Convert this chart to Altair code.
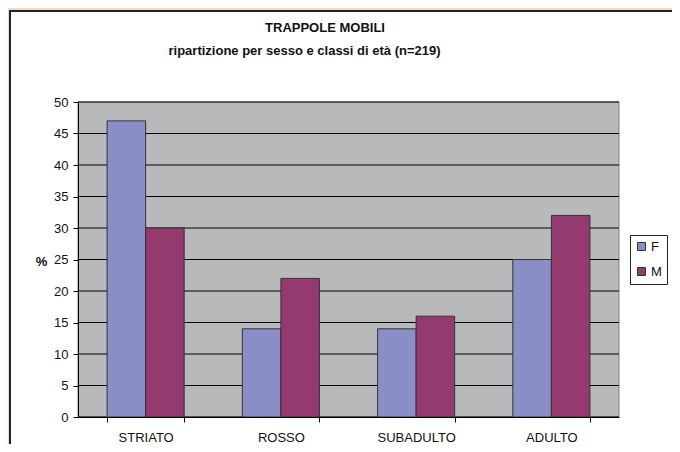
import altair as alt
import pandas as pd

# ---- data ----
categories = ["STRIATO", "ROSSO", "SUBADULTO", "ADULTO"]
sexes = ["F", "M"]
values_F = [47, 14, 14, 25]
values_M = [30, 22, 16, 32]
y_ticks = [0, 5, 10, 15, 20, 25, 30, 35, 40, 45, 50]
title_text = "TRAPPOLE MOBILI"
subtitle_text = "ripartizione per sesso e classi di età (n=219)"
colors = ["#8A8EC6", "#953A6E"]

rows = []
for c, f, m in zip(categories, values_F, values_M):
    rows.append({"classe": c, "sesso": "F", "pct": f})
    rows.append({"classe": c, "sesso": "M", "pct": m})
df = pd.DataFrame(rows)
grid_df = pd.DataFrame({"pct": y_ticks})
one = pd.DataFrame({"a": [0]})

FONT = "Liberation Sans"
W, H = 541, 315
PL, PT, PR, PB = 70, 94, 53, 27

y_scale = alt.Scale(domain=[0, 50], nice=False, zero=True)
y_axis = alt.Axis(
    values=y_ticks, title="%", titleAngle=0, titleX=-37, titleY=159,
    titleAlign="center", titleBaseline="middle", titleFontSize=13,
    titleFontWeight="bold", titleFont=FONT, titleColor="#111",
    grid=False, domainColor="#000", tickColor="#000", tickSize=5,
    labelPadding=5, labelFontSize=13, labelFont=FONT, labelColor="#111",
    zindex=1,
)

frame = alt.Chart(one).mark_rect(
    fill="white", stroke="#222", strokeWidth=2
).encode(
    x=alt.value(-PL + 2), x2=alt.value(W + PR + 10),
    y=alt.value(-PT + 3), y2=alt.value(H + PB + 10),
)

plotbg = alt.Chart(one).mark_rect(
    fill="#B8B9BB", stroke="#808080", strokeWidth=1
).encode(
    x=alt.value(0), x2=alt.value(W), y=alt.value(0), y2=alt.value(H)
)

grid = alt.Chart(grid_df).mark_rule(color="#000", strokeWidth=1).encode(
    y=alt.Y("pct:Q", scale=y_scale, axis=y_axis)
)

bars = alt.Chart(df).mark_bar(stroke="#333", strokeWidth=1).encode(
    x=alt.X(
        "classe:N", sort=categories,
        scale=alt.Scale(paddingInner=0.43, paddingOuter=0.215),
        axis=alt.Axis(
            title=None, labelAngle=0, tickBand="extent", grid=False,
            domainColor="#000", tickColor="#000", tickSize=5,
            labelPadding=9, labelFontSize=13, labelFont=FONT,
            labelColor="#111", zindex=1,
        ),
    ),
    xOffset=alt.XOffset("sesso:N", sort=sexes,
                        scale=alt.Scale(paddingInner=0, paddingOuter=0)),
    y=alt.Y("pct:Q", scale=y_scale, axis=y_axis),
    color=alt.Color(
        "sesso:N",
        scale=alt.Scale(domain=sexes, range=colors),
        legend=alt.Legend(
            title=None, orient="none", legendX=552, legendY=133,
            strokeColor="#222", fillColor="white", padding=5,
            symbolType="square", symbolSize=64, symbolStrokeColor="#333",
            symbolStrokeWidth=1, symbolOpacity=1, labelFontSize=13,
            labelFont=FONT, labelColor="#111", labelOffset=3, rowPadding=11,
            zindex=1,
        ),
    ),
)

title = alt.Chart(one).mark_text(
    font=FONT, fontSize=13, fontWeight="bold", color="#111",
    align="center", baseline="alphabetic"
).encode(x=alt.value(247), y=alt.value(-69.6), text=alt.value(title_text))

subtitle = alt.Chart(one).mark_text(
    font=FONT, fontSize=13, fontWeight="bold", color="#111",
    align="center", baseline="alphabetic"
).encode(x=alt.value(226.5), y=alt.value(-47), text=alt.value(subtitle_text))

chart = alt.layer(frame, plotbg, grid, bars, title, subtitle).properties(
    width=W, height=H,
    autosize=alt.AutoSizeParams(type="none"),
    padding={"left": PL, "top": PT, "right": PR, "bottom": PB},
    background="#F8D4C4",
).configure_view(stroke=None)

chart.save("out.html", embed_options={"renderer": "svg", "actions": False})
